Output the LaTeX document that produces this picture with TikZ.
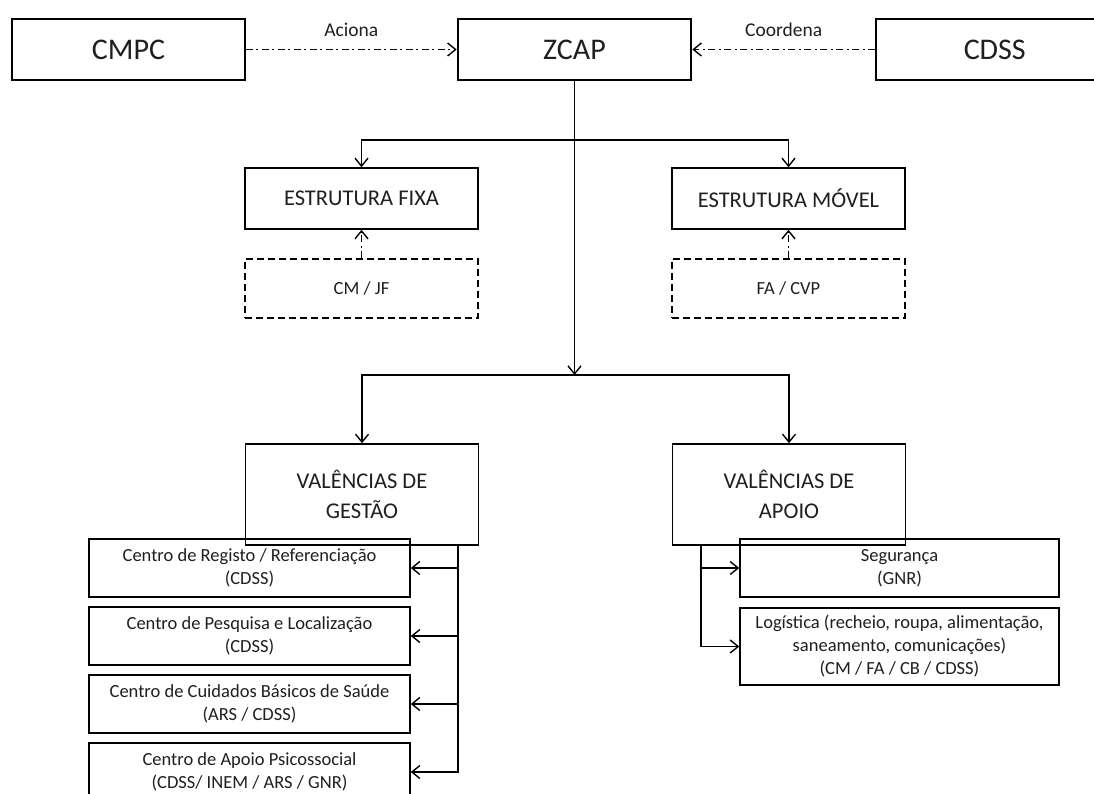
\documentclass[tikz,border=0pt]{standalone}
\usepackage{fontspec}
\setmainfont{Carlito}
\usetikzlibrary{arrows.meta}
\begin{document}
\begin{tikzpicture}[x=1pt,y=-1pt,
  every node/.style={text=black!88},
  base/.style={draw, line width=1.5pt, inner sep=0pt, align=center},
  bigbox/.style={base, minimum width=233pt, minimum height=61pt, font=\fontsize{30}{34}\selectfont},
  midbox/.style={base, minimum width=233pt, font=\fontsize{22.5}{30}\selectfont},
  smallbox/.style={base, font=\fontsize{18.5}{23}\selectfont},
  dashbox/.style={smallbox, dash pattern=on 7pt off 4pt, minimum width=233pt, minimum height=59pt},
  arr/.style={line width=1.5pt, -{Straight Barb[length=8pt,width=13pt,line width=1.4pt]}},
  dasharr/.style={arr, dash pattern=on 7pt off 3.5pt on 2pt off 3.5pt},
  lbl/.style={font=\fontsize{19.5}{23}\selectfont}
]
\useasboundingbox (0,0) rectangle (1094,794);
\clip (0,0) rectangle (1094,794);
\fill[white] (0,0) rectangle (1094,794);

% top row
\node[bigbox] (cmpc) at (128.5,49.5) {CMPC};
\node[bigbox, line width=2.6pt] (zcap) at (574.5,49.5) {ZCAP};
\node[bigbox, minimum width=250pt, anchor=west] (cdss) at (875,49.5) {\hspace*{-12pt}CDSS};

\draw[dasharr] (cmpc.east) -- node[lbl, above=9pt] {Aciona} (zcap.west);
\draw[dasharr] (cdss.west) -- node[lbl, above=9pt] {Coordena} (zcap.east);

% structures
\node[midbox, minimum height=61pt] (fixa) at (361.5,198.5) {ESTRUTURA FIXA};
\node[midbox, minimum height=61pt] (movel) at (788.5,198.5) {ESTRUTURA MÓVEL};
\node[dashbox] (cmjf) at (361.5,288.5) {CM / JF};
\node[dashbox] (facvp) at (788.5,288.5) {FA / CVP};
\draw[dasharr] (cmjf.north) -- (fixa.south);
\draw[dasharr] (facvp.north) -- (movel.south);

\coordinate (j1) at (574.5,140);
\coordinate (j2) at (574.5,375);
\draw[line width=1.5pt] (zcap.south) -- (j1);
\draw[arr] (j1) -| (fixa.north);
\draw[arr] (j1) -| (movel.north);
\draw[arr] (j1) -- (j2);

% valências
\node[midbox, minimum height=101pt] (gestao) at (362,494.5) {VALÊNCIAS DE\\GESTÃO};
\node[midbox, minimum height=101pt] (apoio) at (789,494.5) {VALÊNCIAS DE\\APOIO};
\draw[arr] (j2) -| (gestao.north);
\draw[arr] (j2) -| (apoio.north);

% gestão branches
\node[smallbox, minimum width=321pt, minimum height=58pt] (c1) at (249.5,568) {Centro de Registo / Referenciação\\(CDSS)};
\node[smallbox, minimum width=321pt, minimum height=58pt] (c2) at (249.5,636) {Centro de Pesquisa e Localização\\(CDSS)};
\node[smallbox, minimum width=321pt, minimum height=58pt] (c3) at (249.5,704) {Centro de Cuidados Básicos de Saúde\\(ARS / CDSS)};
\node[smallbox, minimum width=321pt, minimum height=58pt] (c4) at (249.5,772) {Centro de Apoio Psicossocial\\(CDSS/ INEM / ARS / GNR)};

\coordinate (gt) at (458,545);
\draw[arr] (gt) |- (c1.east);
\draw[arr] (gt) |- (c2.east);
\draw[arr] (gt) |- (c3.east);
\draw[arr] (gt) |- (c4.east);

% apoio branches
\node[smallbox, minimum width=319pt, minimum height=58pt] (seg) at (899.5,568) {Segurança\\(GNR)};
\node[smallbox, minimum width=319pt, minimum height=77pt] (log) at (899.5,646.5) {Logística (recheio, roupa, alimentação,\\saneamento, comunicações)\\(CM / FA / CB / CDSS)};

\coordinate (at) at (701,545);
\draw[arr] (at) |- (seg.west);
\draw[arr] (at) |- (log.west);
\end{tikzpicture}
\end{document}
